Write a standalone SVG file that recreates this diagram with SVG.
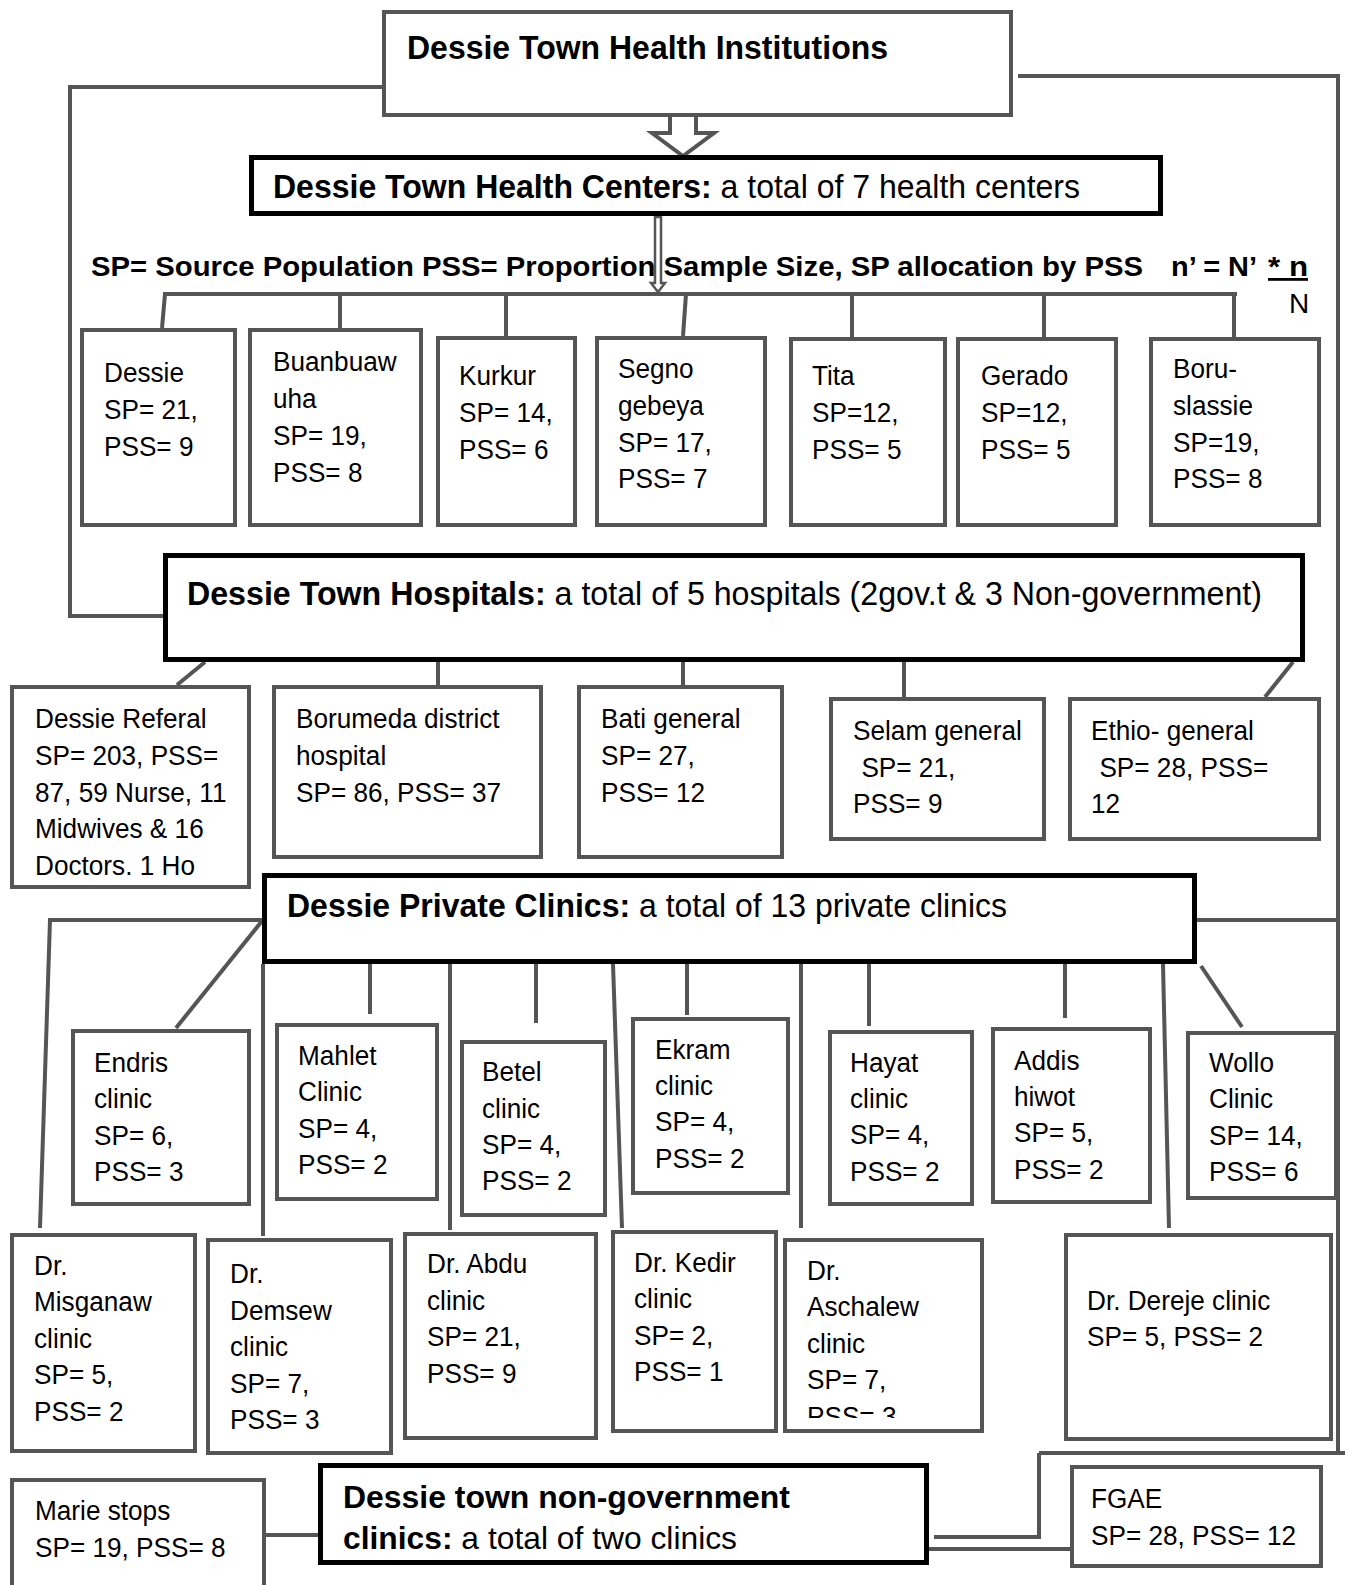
<svg xmlns="http://www.w3.org/2000/svg" width="1345" height="1585" viewBox="0 0 1345 1585">
<defs>
<style>
.bg{fill:#fff}
.gb{fill:#fff;stroke:#555;stroke-width:4}
.kb{fill:#fff;stroke:#000;stroke-width:5}
.ln{fill:none;stroke:#555;stroke-width:4}
.ar{fill:#fff;stroke:#555;stroke-width:4;stroke-linejoin:miter}
.ar2{fill:#fff;stroke:#555;stroke-width:2.5}
text{font-family:"Liberation Sans",Arial,Helvetica,sans-serif;fill:#000}
.t{font-size:28px}
.h{font-size:34px}
.b{font-weight:bold}
</style>
<clipPath id="clipAsch"><rect x="783" y="1238" width="201" height="180"/></clipPath>
</defs>
<rect class="bg" x="0" y="0" width="1345" height="1585"/>

<g id="connectors">
<polyline class="ln" points="384,87 70,87 70,616 165,616"/>
<polyline class="ln" points="1018,76 1338,76 1338,1453"/>
<line class="ln" x1="1039" y1="1453" x2="1345" y2="1453"/>
<polyline class="ln" points="1039,1453 1039,1537 934,1537"/>
<line class="ln" x1="1197" y1="920" x2="1338" y2="920"/>
<line class="ln" x1="929" y1="1549" x2="1070" y2="1549"/>
<line class="ln" x1="266" y1="1535" x2="318" y2="1535"/>
<polygon class="ar" points="670,115 696,115 696,133 714,133 683,156 652,133 670,133"/>
<polygon class="ar2" points="655,217 661,217 661,283 665,283 658,292 651,283 655,283"/>
<line class="ln" x1="163" y1="294" x2="1237" y2="294"/>
<line class="ln" x1="165" y1="294" x2="162" y2="328"/>
<line class="ln" x1="340" y1="294" x2="340" y2="328"/>
<line class="ln" x1="506" y1="294" x2="506" y2="336"/>
<line class="ln" x1="686" y1="294" x2="683" y2="336"/>
<line class="ln" x1="852" y1="294" x2="852" y2="337"/>
<line class="ln" x1="1044" y1="294" x2="1044" y2="337"/>
<line class="ln" x1="1234" y1="294" x2="1234" y2="337"/>
<line class="ln" x1="205" y1="662" x2="177" y2="685"/>
<line class="ln" x1="438" y1="662" x2="438" y2="685"/>
<line class="ln" x1="683" y1="662" x2="683" y2="685"/>
<line class="ln" x1="904" y1="662" x2="904" y2="697"/>
<line class="ln" x1="1293" y1="662" x2="1265" y2="697"/>
<polyline class="ln" points="262,920 50,920 40,1228"/>
<line class="ln" x1="262" y1="921" x2="176" y2="1028"/>
<line class="ln" x1="263" y1="964" x2="263" y2="1236"/>
<line class="ln" x1="370" y1="964" x2="370" y2="1014"/>
<line class="ln" x1="450" y1="964" x2="450" y2="1230"/>
<line class="ln" x1="536" y1="964" x2="536" y2="1023"/>
<line class="ln" x1="613" y1="964" x2="622" y2="1228"/>
<line class="ln" x1="687" y1="964" x2="687" y2="1015"/>
<line class="ln" x1="801" y1="964" x2="801" y2="1228"/>
<line class="ln" x1="869" y1="964" x2="869" y2="1026"/>
<line class="ln" x1="1065" y1="964" x2="1065" y2="1018"/>
<line class="ln" x1="1163" y1="964" x2="1169" y2="1228"/>
<line class="ln" x1="1201" y1="966" x2="1242" y2="1027"/>
</g>

<g id="top">
<rect class="gb" x="384" y="12" width="627" height="103"/>
<text class="h b" x="407" y="59" textLength="481" lengthAdjust="spacingAndGlyphs">Dessie Town Health Institutions</text>
</g>

<g id="health-centers">
<rect class="kb" x="251.5" y="157.5" width="909" height="56"/>
<text class="h" x="273" y="198" textLength="807" lengthAdjust="spacingAndGlyphs"><tspan class="b">Dessie Town Health Centers:</tspan> a total of 7 health centers</text>
</g>

<g id="legend">
<text class="b" font-size="28" x="91" y="276" textLength="1052" lengthAdjust="spacingAndGlyphs">SP= Source Population PSS= Proportion Sample Size, SP allocation by PSS</text>
<text class="b" font-size="28" x="1171" y="276" textLength="86" lengthAdjust="spacingAndGlyphs">n’ = N’</text>
<text class="b" font-size="28" x="1268" y="276" textLength="40" lengthAdjust="spacingAndGlyphs" text-decoration="underline">* n</text>
<text class="t" x="1289" y="313">N</text>
</g>

<g id="hc-dessie"><rect class="gb" x="82" y="330" width="153" height="195"/>
<text class="t" transform="translate(104 0) scale(0.935 1)"><tspan x="0" y="382">Dessie</tspan><tspan x="0" y="419">SP= 21,</tspan><tspan x="0" y="456">PSS= 9</tspan></text></g>
<g id="hc-buanbuawuha"><rect class="gb" x="250" y="330" width="171" height="195"/>
<text class="t" transform="translate(273 0) scale(0.935 1)"><tspan x="0" y="371">Buanbuaw</tspan><tspan x="0" y="408">uha</tspan><tspan x="0" y="445">SP= 19,</tspan><tspan x="0" y="482">PSS= 8</tspan></text></g>
<g id="hc-kurkur"><rect class="gb" x="438" y="338" width="137" height="187"/>
<text class="t" transform="translate(459 0) scale(0.935 1)"><tspan x="0" y="385">Kurkur</tspan><tspan x="0" y="422">SP= 14,</tspan><tspan x="0" y="459">PSS= 6</tspan></text></g>
<g id="hc-segno"><rect class="gb" x="597" y="338" width="168" height="187"/>
<text class="t" transform="translate(618 0) scale(0.935 1)"><tspan x="0" y="378">Segno</tspan><tspan x="0" y="415">gebeya</tspan><tspan x="0" y="452">SP= 17,</tspan><tspan x="0" y="488">PSS= 7</tspan></text></g>
<g id="hc-tita"><rect class="gb" x="791" y="339" width="154" height="186"/>
<text class="t" transform="translate(812 0) scale(0.935 1)"><tspan x="0" y="385">Tita</tspan><tspan x="0" y="422">SP=12,</tspan><tspan x="0" y="459">PSS= 5</tspan></text></g>
<g id="hc-gerado"><rect class="gb" x="958" y="339" width="158" height="186"/>
<text class="t" transform="translate(981 0) scale(0.935 1)"><tspan x="0" y="385">Gerado</tspan><tspan x="0" y="422">SP=12,</tspan><tspan x="0" y="459">PSS= 5</tspan></text></g>
<g id="hc-boru"><rect class="gb" x="1151" y="339" width="168" height="186"/>
<text class="t" transform="translate(1173 0) scale(0.935 1)"><tspan x="0" y="378">Boru-</tspan><tspan x="0" y="415">slassie</tspan><tspan x="0" y="452">SP=19,</tspan><tspan x="0" y="488">PSS= 8</tspan></text></g>

<g id="hospitals">
<rect class="kb" x="165.5" y="555.5" width="1137" height="104"/>
<text class="h" x="187" y="605" textLength="1075" lengthAdjust="spacingAndGlyphs"><tspan class="b">Dessie Town Hospitals:</tspan> a total of 5 hospitals (2gov.t &amp; 3 Non-government)</text>
</g>

<g id="hosp-referal"><rect class="gb" x="12" y="687" width="237" height="200"/>
<text class="t" transform="translate(35 0) scale(0.935 1)"><tspan x="0" y="728">Dessie Referal</tspan><tspan x="0" y="765">SP= 203, PSS=</tspan><tspan x="0" y="802">87, 59 Nurse, 11</tspan><tspan x="0" y="838">Midwives &amp; 16</tspan><tspan x="0" y="875">Doctors. 1 Ho</tspan></text></g>
<g id="hosp-borumeda"><rect class="gb" x="274" y="687" width="267" height="170"/>
<text class="t" transform="translate(296 0) scale(0.935 1)"><tspan x="0" y="728">Borumeda district</tspan><tspan x="0" y="765">hospital</tspan><tspan x="0" y="802">SP= 86, PSS= 37</tspan></text></g>
<g id="hosp-bati"><rect class="gb" x="579" y="687" width="203" height="170"/>
<text class="t" transform="translate(601 0) scale(0.935 1)"><tspan x="0" y="728">Bati general</tspan><tspan x="0" y="765">SP= 27,</tspan><tspan x="0" y="802">PSS= 12</tspan></text></g>
<g id="hosp-selam"><rect class="gb" x="831" y="699" width="213" height="140"/>
<text class="t" transform="translate(853 0) scale(0.935 1)"><tspan x="0" y="740">Selam general</tspan><tspan x="9" y="777">SP= 21,</tspan><tspan x="0" y="813">PSS= 9</tspan></text></g>
<g id="hosp-ethio"><rect class="gb" x="1070" y="699" width="249" height="140"/>
<text class="t" transform="translate(1091 0) scale(0.935 1)"><tspan x="0" y="740">Ethio- general</tspan><tspan x="9" y="777">SP= 28, PSS=</tspan><tspan x="0" y="813">12</tspan></text></g>

<g id="private-clinics">
<rect class="kb" x="264.5" y="875.5" width="930" height="86"/>
<text class="h" x="287" y="917" textLength="720" lengthAdjust="spacingAndGlyphs"><tspan class="b">Dessie Private Clinics:</tspan> a total of 13 private clinics</text>
</g>

<g id="cl-endris"><rect class="gb" x="73" y="1031" width="176" height="173"/>
<text class="t" transform="translate(94 0) scale(0.935 1)"><tspan x="0" y="1072">Endris</tspan><tspan x="0" y="1108">clinic</tspan><tspan x="0" y="1145">SP= 6,</tspan><tspan x="0" y="1181">PSS= 3</tspan></text></g>
<g id="cl-mahlet"><rect class="gb" x="277" y="1025" width="160" height="174"/>
<text class="t" transform="translate(298 0) scale(0.935 1)"><tspan x="0" y="1065">Mahlet</tspan><tspan x="0" y="1101">Clinic</tspan><tspan x="0" y="1138">SP= 4,</tspan><tspan x="0" y="1174">PSS= 2</tspan></text></g>
<g id="cl-betel"><rect class="gb" x="462" y="1042" width="143" height="173"/>
<text class="t" transform="translate(482 0) scale(0.935 1)"><tspan x="0" y="1081">Betel</tspan><tspan x="0" y="1118">clinic</tspan><tspan x="0" y="1154">SP= 4,</tspan><tspan x="0" y="1190">PSS= 2</tspan></text></g>
<g id="cl-ekram"><rect class="gb" x="633" y="1019" width="155" height="174"/>
<text class="t" transform="translate(655 0) scale(0.935 1)"><tspan x="0" y="1059">Ekram</tspan><tspan x="0" y="1095">clinic</tspan><tspan x="0" y="1131">SP= 4,</tspan><tspan x="0" y="1168">PSS= 2</tspan></text></g>
<g id="cl-hayat"><rect class="gb" x="830" y="1032" width="142" height="172"/>
<text class="t" transform="translate(850 0) scale(0.935 1)"><tspan x="0" y="1072">Hayat</tspan><tspan x="0" y="1108">clinic</tspan><tspan x="0" y="1144">SP= 4,</tspan><tspan x="0" y="1181">PSS= 2</tspan></text></g>
<g id="cl-addis"><rect class="gb" x="993" y="1029" width="157" height="173"/>
<text class="t" transform="translate(1014 0) scale(0.935 1)"><tspan x="0" y="1070">Addis</tspan><tspan x="0" y="1106">hiwot</tspan><tspan x="0" y="1142">SP= 5,</tspan><tspan x="0" y="1179">PSS= 2</tspan></text></g>
<g id="cl-wollo"><rect class="gb" x="1188" y="1033" width="148" height="165"/>
<text class="t" transform="translate(1209 0) scale(0.935 1)"><tspan x="0" y="1072">Wollo</tspan><tspan x="0" y="1108">Clinic</tspan><tspan x="0" y="1145">SP= 14,</tspan><tspan x="0" y="1181">PSS= 6</tspan></text></g>

<g id="cl-misganaw"><rect class="gb" x="12" y="1235" width="183" height="216"/>
<text class="t" transform="translate(34 0) scale(0.935 1)"><tspan x="0" y="1275">Dr.</tspan><tspan x="0" y="1311">Misganaw</tspan><tspan x="0" y="1348">clinic</tspan><tspan x="0" y="1384">SP= 5,</tspan><tspan x="0" y="1421">PSS= 2</tspan></text></g>
<g id="cl-demsew"><rect class="gb" x="208" y="1240" width="183" height="213"/>
<text class="t" transform="translate(230 0) scale(0.935 1)"><tspan x="0" y="1283">Dr.</tspan><tspan x="0" y="1320">Demsew</tspan><tspan x="0" y="1356">clinic</tspan><tspan x="0" y="1393">SP= 7,</tspan><tspan x="0" y="1429">PSS= 3</tspan></text></g>
<g id="cl-abdu"><rect class="gb" x="405" y="1234" width="191" height="204"/>
<text class="t" transform="translate(427 0) scale(0.935 1)"><tspan x="0" y="1273">Dr. Abdu</tspan><tspan x="0" y="1310">clinic</tspan><tspan x="0" y="1346">SP= 21,</tspan><tspan x="0" y="1383">PSS= 9</tspan></text></g>
<g id="cl-kedir"><rect class="gb" x="613" y="1232" width="163" height="199"/>
<text class="t" transform="translate(634 0) scale(0.935 1)"><tspan x="0" y="1272">Dr. Kedir</tspan><tspan x="0" y="1308">clinic</tspan><tspan x="0" y="1345">SP= 2,</tspan><tspan x="0" y="1381">PSS= 1</tspan></text></g>
<g id="cl-aschalew"><rect class="gb" x="785" y="1240" width="197" height="191"/>
<g clip-path="url(#clipAsch)"><text class="t" transform="translate(807 0) scale(0.935 1)"><tspan x="0" y="1280">Dr.</tspan><tspan x="0" y="1316">Aschalew</tspan><tspan x="0" y="1353">clinic</tspan><tspan x="0" y="1389">SP= 7,</tspan><tspan x="0" y="1426">PSS= 3</tspan></text></g></g>
<g id="cl-dereje"><rect class="gb" x="1066" y="1235" width="265" height="204"/>
<text class="t" transform="translate(1087 0) scale(0.935 1)"><tspan x="0" y="1310">Dr. Dereje clinic</tspan><tspan x="0" y="1346">SP= 5, PSS= 2</tspan></text></g>

<g id="nongov-clinics">
<rect class="kb" x="320.5" y="1465.5" width="606" height="97"/>
<text class="b" font-size="32" x="343" y="1508" textLength="447" lengthAdjust="spacingAndGlyphs">Dessie town non-government</text>
<text font-size="32" x="343" y="1549" textLength="394" lengthAdjust="spacingAndGlyphs"><tspan class="b">clinics:</tspan> a total of two clinics</text>
</g>

<g id="ng-marie"><rect class="gb" x="12" y="1480" width="252" height="130"/>
<text class="t" transform="translate(35 0) scale(0.935 1)"><tspan x="0" y="1520">Marie stops</tspan><tspan x="0" y="1557">SP= 19, PSS= 8</tspan></text></g>
<g id="ng-fgae"><rect class="gb" x="1072" y="1467" width="249" height="99"/>
<text class="t" transform="translate(1091 0) scale(0.935 1)"><tspan x="0" y="1508">FGAE</tspan><tspan x="0" y="1545">SP= 28, PSS= 12</tspan></text></g>
</svg>
